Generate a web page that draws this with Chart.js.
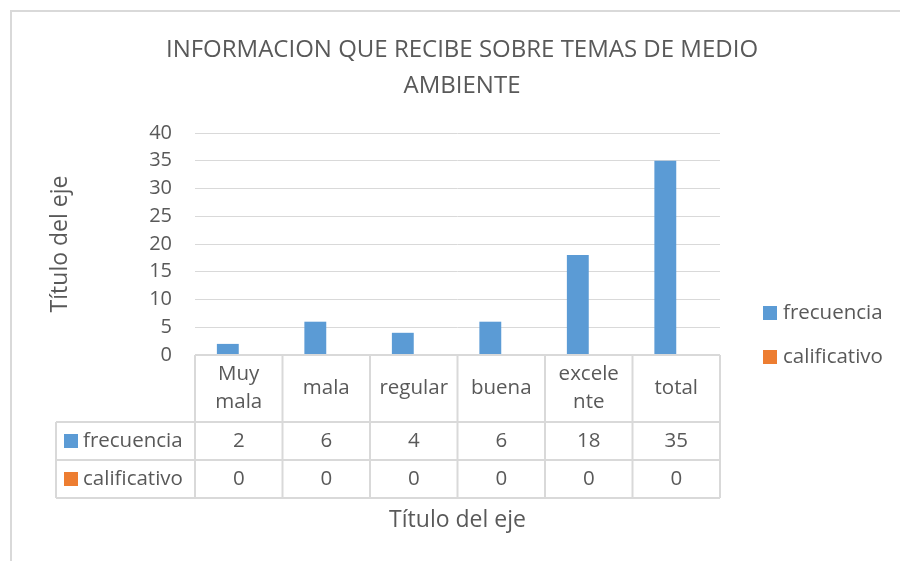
<!DOCTYPE html>
<html>
<head>
<meta charset="utf-8">
<script src="https://cdn.jsdelivr.net/npm/chart.js@4.4.1/dist/chart.umd.min.js"></script>
<style>
  html, body { margin: 0; padding: 0; background: #ffffff; }
  #wrap { width: 900px; height: 561px; position: relative; }
</style>
</head>
<body>
<div id="wrap"><canvas id="c" width="900" height="561"></canvas></div>
<script>
// ---- data ----
const categories = [["Muy", "mala"], ["mala"], ["regular"], ["buena"], ["excele", "nte"], ["total"]];
const seriesNames = ["frecuencia", "calificativo"];
const frecuencia = [2, 6, 4, 6, 18, 35];
const calificativo = [0, 0, 0, 0, 0, 0];
const titleLines = ["INFORMACION QUE RECIBE SOBRE TEMAS DE MEDIO", "AMBIENTE"];
const yAxisTitle = "Título del eje";
const xAxisTitle = "Título del eje";
const yTicks = { min: 0, max: 40, step: 5 };

const seriesColors = ["#5B9BD5", "#ED7D31"];
const FONT = "'Open Sans', 'Liberation Sans', sans-serif";
const TEXT = "#595959";
const LINE = "#d9d9d9";

const tablePlugin = {
  id: 'excelTable',
  afterDraw(chart) {
    const ctx = chart.ctx;
    const area = chart.chartArea;
    const xs = chart.scales.x;
    const n = categories.length;
    const colW = area.width / n;
    const top = area.bottom;
    const headerBottom = top + 67;
    const rowH = 38;
    const legendLeft = 56;
    const rows = [frecuencia, calificativo];
    const tableBottom = headerBottom + rowH * rows.length;

    ctx.save();
    // outer chart border
    ctx.strokeStyle = LINE;
    ctx.lineWidth = 2;
    ctx.beginPath();
    ctx.moveTo(11, 561); ctx.lineTo(11, 11); ctx.lineTo(900, 11);
    ctx.stroke();

    // table lines
    ctx.lineWidth = 2;
    ctx.strokeStyle = LINE;
    ctx.beginPath();
    ctx.moveTo(area.left, top); ctx.lineTo(area.right, top);
    for (let r = 0; r <= rows.length; r++) {
      const y = headerBottom + r * rowH;
      ctx.moveTo(legendLeft, y); ctx.lineTo(area.right, y);
    }
    for (let i = 0; i <= n; i++) {
      const x = area.left + i * colW;
      ctx.moveTo(x, top); ctx.lineTo(x, tableBottom);
    }
    ctx.moveTo(legendLeft, headerBottom); ctx.lineTo(legendLeft, tableBottom);
    ctx.stroke();

    // header labels
    ctx.fillStyle = TEXT;
    ctx.font = "20.5px " + FONT;
    ctx.textAlign = 'center';
    ctx.textBaseline = 'middle';
    const headerMid = (top + headerBottom) / 2;
    const lh = 28;
    categories.forEach((lab, i) => {
      const cx = xs.getPixelForValue(i);
      const lines = Array.isArray(lab) ? lab : [lab];
      const y0 = headerMid - (lines.length - 1) * lh / 2;
      lines.forEach((t, k) => ctx.fillText(t, cx, y0 + k * lh));
    });

    // rows
    rows.forEach((vals, r) => {
      const cy = headerBottom + r * rowH + rowH / 2;
      ctx.fillStyle = seriesColors[r];
      ctx.fillRect(64, cy - 7, 14, 14);
      ctx.fillStyle = TEXT;
      ctx.textAlign = 'left';
      ctx.fillText(seriesNames[r], 83, cy);
      ctx.textAlign = 'center';
      vals.forEach((v, i) => ctx.fillText(String(v), xs.getPixelForValue(i), cy));
    });

    // x axis title
    ctx.font = "23px " + FONT;
    ctx.fillText(xAxisTitle, (area.left + area.right) / 2, 520);

    // legend on the right
    ctx.font = "20.5px " + FONT;
    ctx.textAlign = 'left';
    const legY = [313, 357];
    seriesNames.forEach((nm, i) => {
      ctx.fillStyle = seriesColors[i];
      ctx.fillRect(763, legY[i] - 7, 14, 14);
      ctx.fillStyle = TEXT;
      ctx.fillText(nm, 783, legY[i]);
    });
    ctx.restore();
  }
};

new Chart(document.getElementById('c'), {
  type: 'bar',
  data: {
    labels: categories,
    datasets: [
      { label: seriesNames[0], data: frecuencia, backgroundColor: seriesColors[0], categoryPercentage: 0.5, barPercentage: 1.0 },
      { label: seriesNames[1], data: calificativo, backgroundColor: seriesColors[1], categoryPercentage: 0.5, barPercentage: 1.0 }
    ]
  },
  plugins: [tablePlugin],
  options: {
    responsive: false,
    animation: false,
    events: [],
    layout: { padding: { left: 40, right: 16, top: 10, bottom: 0 } },
    plugins: {
      legend: { display: false },
      tooltip: { enabled: false },
      title: {
        display: true,
        text: titleLines,
        color: TEXT,
        font: { family: FONT, size: 24, weight: 'normal', lineHeight: 36 / 24 },
        padding: { top: 22, bottom: 29 }
      }
    },
    scales: {
      x: {
        display: true,
        grid: { display: false },
        border: { display: false },
        ticks: { display: false },
        afterFit(scale) { scale.height = 561 - 355; }
      },
      y: {
        position: 'left',
        min: yTicks.min,
        max: yTicks.max,
        border: { display: false },
        grid: { color: LINE, lineWidth: 1, drawTicks: false },
        ticks: { stepSize: yTicks.step, color: TEXT, padding: 23, font: { family: FONT, size: 20 } },
        title: { display: true, text: yAxisTitle, color: TEXT, font: { family: FONT, size: 23 }, padding: { top: 7, bottom: 0 } },
        afterFit(scale) { scale.width = 155; }
      },
      yr: {
        position: 'right',
        display: true,
        grid: { display: false },
        border: { display: false },
        ticks: { display: false },
        afterFit(scale) { scale.width = 164; }
      }
    }
  }
});
</script>
</body>
</html>
